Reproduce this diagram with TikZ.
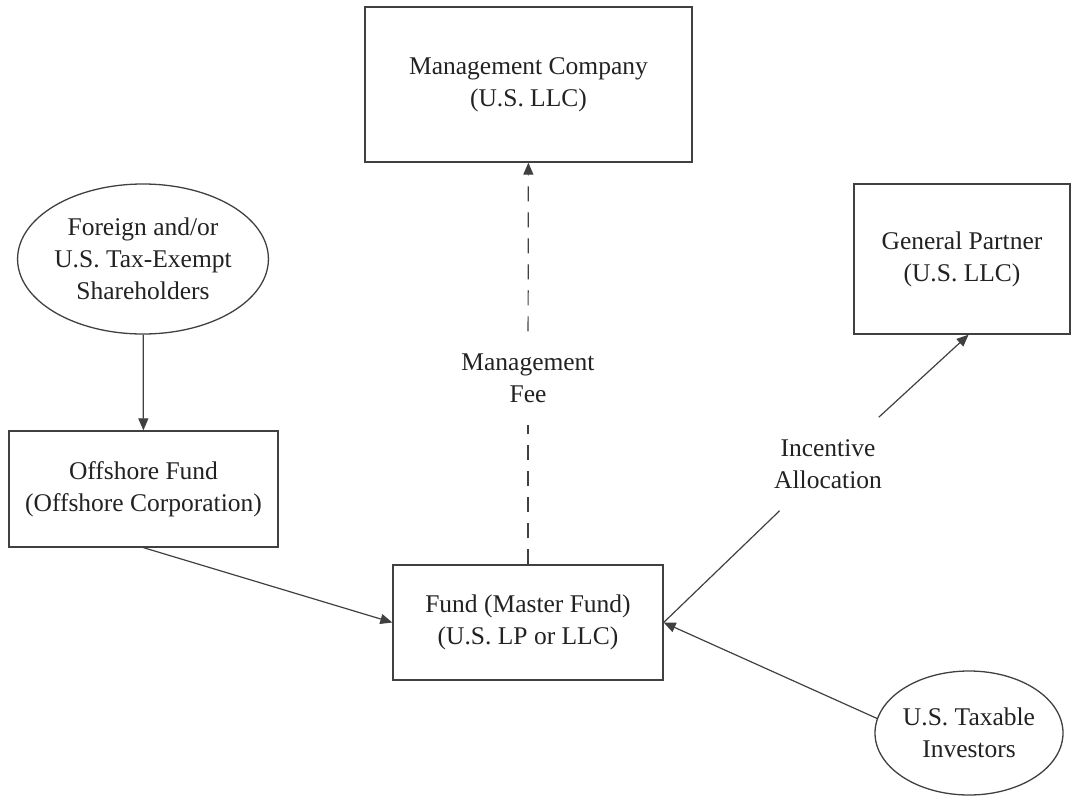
\documentclass[tikz,border=0pt]{standalone}
\usepackage{fontspec}
\setmainfont{Liberation Serif}
\usetikzlibrary{arrows.meta,shapes.geometric}
\definecolor{lncol}{HTML}{404040}
\definecolor{txcol}{HTML}{222222}
\begin{document}
\begin{tikzpicture}[x=1pt,y=-1pt,
  every node/.style={font=\fontsize{25.5}{32}\selectfont, text=txcol, align=center},
  box/.style={draw=lncol, line width=1.3pt, rectangle, inner sep=0pt},
  oval/.style={draw=lncol, line width=1.3pt, ellipse, inner sep=0pt},
  lbl/.style={inner sep=22pt},
  plain/.style={draw=lncol, line width=1.2pt},
  arr/.style={plain, -{Triangle[length=12pt,width=10pt]}},
  dsh/.style={dash pattern=on 15pt off 11pt}
]
\useasboundingbox (0,0) rectangle (1072,796);

\node[box, minimum width=327pt, minimum height=155pt] (mgmt) at (528.5,84.5) {Management Company\\(U.S. LLC)};
\node[box, minimum width=216pt, minimum height=150pt] (gp) at (962,259) {General Partner\\(U.S. LLC)};
\node[oval, minimum width=228pt, minimum height=150pt] (foreign) at (143,259) {Foreign and/or\\U.S. Tax-Exempt\\Shareholders};
\node[box, minimum width=269pt, minimum height=116pt] (offshore) at (143.5,489) {Offshore Fund\\(Offshore Corporation)};
\node[box, minimum width=270pt, minimum height=115pt] (fund) at (528,622.5) {Fund (Master Fund)\\(U.S. LP or LLC)};
\node[oval, minimum width=188pt, minimum height=124pt] (tax) at (969,733) {U.S. Taxable\\Investors};

\node[lbl] (mfee) at (528,378) {Management\\Fee};
\node[lbl] (inc) at (828,464) {Incentive\\Allocation};

\draw[arr] (foreign) -- (offshore);
\draw[arr] (offshore.south) -- (fund.west);
\draw[plain, dsh] (fund) -- (mfee);
\draw[arr, dsh] (mfee) -- (mgmt);
\draw[plain] (fund.east) -- (inc);
\draw[arr] (inc) -- (gp.-85);
\draw[arr] (tax.171) -- (fund.east);
\end{tikzpicture}
\end{document}
